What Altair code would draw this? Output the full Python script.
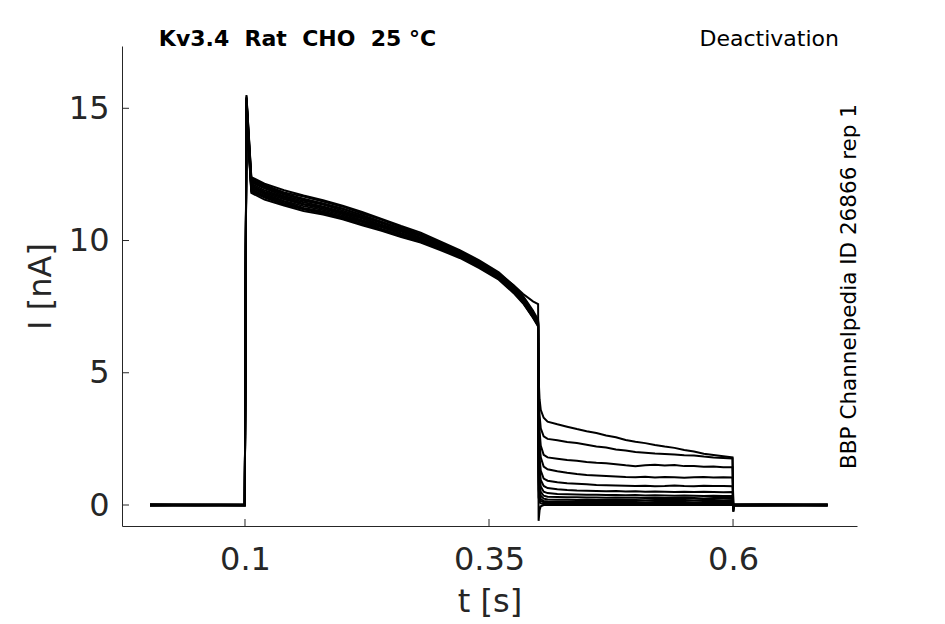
import altair as alt
import pandas as pd

# ---- time base of the sampled points (s) ----
T = [0.0027, 0.05, 0.0998,
     0.1015, 0.104, 0.1065, 0.12, 0.14, 0.16, 0.18, 0.2, 0.22, 0.24, 0.26, 0.28, 0.3, 0.32, 0.34, 0.36, 0.375, 0.385, 0.395, 0.4003,
     0.4008, 0.4018, 0.403, 0.406, 0.41, 0.42, 0.43, 0.44, 0.45, 0.46, 0.47, 0.48, 0.49, 0.5, 0.51, 0.52, 0.53, 0.54, 0.55, 0.56, 0.57, 0.58, 0.59, 0.5995,
     0.6003, 0.601, 0.65, 0.697]

# ---- current of each sweep (nA) ----
S1 = [0.03, 0.02, 0.03, 15.5, 13.9, 12.35, 12.1, 11.82, 11.66, 11.47, 11.28, 11.02, 10.78, 10.5, 10.24, 9.93, 9.6, 9.2, 8.75, 8.25, 7.85, 7.3, 6.95,
      4.8, 4.0, 3.6, 3.3, 3.15, 3.05, 2.96, 2.87, 2.79, 2.72, 2.63, 2.56, 2.46, 2.39, 2.34, 2.27, 2.21, 2.16, 2.08, 2.02, 1.94, 1.89, 1.84, 1.8,
      -0.25, 0.03, 0.03, 0.02]
S2 = [-0.03, -0.02, -0.03, 15.0, 13.3, 11.8, 11.55, 11.32, 11.12, 10.98, 10.8, 10.58, 10.37, 10.13, 9.92, 9.64, 9.34, 8.96, 8.52, 8.02, 7.62, 7.08, 6.75,
      4.3, 3.4, 2.9, 2.6, 2.5, 2.45, 2.38, 2.34, 2.28, 2.21, 2.17, 2.1, 2.06, 2.0, 1.98, 1.95, 1.93, 1.91, 1.88, 1.87, 1.83, 1.8, 1.78, 1.76,
      -0.25, -0.03, -0.02, -0.03]
S3 = [0.01, 0.02, 0.01, 15.4, 13.7, 12.2, 11.97, 11.68, 11.5, 11.36, 11.13, 10.9, 10.66, 10.4, 10.17, 9.86, 9.55, 9.15, 8.7, 8.2, 7.8, 7.25, 6.9,
      3.8, 2.8, 2.25, 1.9, 1.8, 1.75, 1.7, 1.67, 1.63, 1.6, 1.58, 1.54, 1.5, 1.47, 1.5, 1.52, 1.49, 1.51, 1.47, 1.47, 1.45, 1.46, 1.43, 1.43,
      -0.2, 0.01, 0.02, 0.01]
S4 = [-0.01, -0.02, -0.01, 15.1, 13.45, 11.95, 11.7, 11.47, 11.23, 11.1, 10.9, 10.7, 10.44, 10.2, 9.98, 9.7, 9.4, 9.0, 8.57, 8.06, 7.66, 7.12, 6.8,
      3.3, 2.3, 1.8, 1.45, 1.35, 1.28, 1.22, 1.17, 1.13, 1.12, 1.1, 1.08, 1.06, 1.05, 1.07, 1.04, 1.06, 1.05, 1.03, 1.05, 1.06, 1.04, 1.05, 1.04,
      -0.15, -0.01, -0.02, -0.01]
S5 = [0.02, 0.0, 0.02, 15.45, 13.95, 12.4, 12.15, 11.9, 11.7, 11.52, 11.32, 11.08, 10.82, 10.55, 10.3, 9.97, 9.64, 9.25, 8.8, 8.3, 7.9, 7.35, 7.0,
      2.8, 1.8, 1.3, 1.0, 0.92, 0.86, 0.82, 0.8, 0.78, 0.76, 0.75, 0.74, 0.73, 0.72, 0.73, 0.71, 0.72, 0.74, 0.72, 0.71, 0.73, 0.72, 0.72, 0.71,
      -0.15, 0.02, 0.0, 0.02]
S6 = [0.0, 0.01, 0.0, 15.3, 13.6, 12.1, 11.84, 11.62, 11.38, 11.26, 11.04, 10.83, 10.57, 10.34, 10.09, 9.81, 9.47, 9.11, 8.64, 8.16, 7.74, 7.2, 6.86,
      2.3, 1.4, 0.95, 0.72, 0.64, 0.6, 0.57, 0.55, 0.54, 0.53, 0.52, 0.53, 0.51, 0.52, 0.5, 0.51, 0.5, 0.49, 0.5, 0.49, 0.5, 0.49, 0.48, 0.49,
      -0.1, 0.0, 0.01, 0.0]
S7 = [-0.02, 0.0, -0.02, 15.05, 13.4, 11.85, 11.62, 11.36, 11.18, 11.02, 10.84, 10.62, 10.4, 10.16, 9.95, 9.7, 9.42, 9.08, 8.75, 8.32, 7.98, 7.7, 7.6,
      1.9, 1.1, 0.7, 0.5, 0.45, 0.42, 0.41, 0.4, 0.39, 0.39, 0.38, 0.38, 0.37, 0.38, 0.36, 0.37, 0.36, 0.35, 0.36, 0.35, 0.34, 0.35, 0.34, 0.34,
      -0.1, -0.02, 0.0, -0.02]
S8 = [0.0, 0.0, 0.0, 15.35, 13.75, 12.25, 12.0, 11.74, 11.55, 11.38, 11.2, 10.96, 10.7, 10.45, 10.2, 9.9, 9.58, 9.2, 8.74, 8.24, 7.84, 7.28, 6.93,
      1.5, 0.8, 0.5, 0.35, 0.31, 0.3, 0.29, 0.29, 0.28, 0.28, 0.27, 0.28, 0.27, 0.27, 0.26, 0.27, 0.26, 0.26, 0.27, 0.26, 0.25, 0.26, 0.26, 0.26,
      -0.1, 0.0, 0.0, 0.0]
S9 = [0.01, -0.01, 0.01, 15.2, 13.55, 12.05, 11.8, 11.56, 11.36, 11.2, 11.0, 10.77, 10.54, 10.28, 10.05, 9.76, 9.44, 9.06, 8.6, 8.1, 7.7, 7.16, 6.83,
      1.2, 0.6, 0.35, 0.24, 0.21, 0.2, 0.2, 0.19, 0.2, 0.19, 0.19, 0.2, 0.19, 0.19, 0.18, 0.19, 0.19, 0.2, 0.19, 0.18, 0.19, 0.19, 0.18, 0.19,
      -0.05, 0.01, -0.01, 0.01]
S10 = [0, 0, 0, 15.4, 13.85, 12.3, 12.05, 11.78, 11.58, 11.4, 11.2, 10.95, 10.7, 10.43, 10.18, 9.87, 9.55, 9.16, 8.7, 8.2, 7.8, 7.24, 6.9,
       0.9, 0.4, 0.22, 0.15, 0.13, 0.12, 0.12, 0.11, 0.12, 0.11, 0.11, 0.12, 0.11, 0.11, 0.1, 0.11, 0.11, 0.12, 0.11, 0.1, 0.11, 0.11, 0.11, 0.11,
       -0.05, 0.0, 0.0, 0.0]
S11 = [0, 0, 0, 15.05, 13.4, 11.9, 11.66, 11.42, 11.2, 11.07, 10.86, 10.64, 10.41, 10.17, 9.95, 9.68, 9.38, 9.0, 8.55, 8.05, 7.65, 7.1, 6.78,
       0.6, 0.25, 0.14, 0.1, 0.09, 0.08, 0.08, 0.08, 0.07, 0.08, 0.08, 0.08, 0.07, 0.08, 0.08, 0.07, 0.08, 0.08, 0.07, 0.08, 0.08, 0.07, 0.08, 0.08,
       -0.05, 0.0, 0.0, 0.0]
S12 = [0, 0, 0, 15.3, 13.65, 12.15, 11.9, 11.64, 11.45, 11.29, 11.08, 10.85, 10.6, 10.35, 10.11, 9.8, 9.49, 9.1, 8.66, 8.15, 7.75, 7.2, 6.87,
       0.3, 0.1, 0.06, 0.04, 0.04, 0.04, 0.03, 0.04, 0.04, 0.04, 0.03, 0.04, 0.04, 0.04, 0.03, 0.04, 0.04, 0.04, 0.04, 0.03, 0.04, 0.04, 0.04, 0.04,
       -0.05, 0.0, 0.0, 0.0]
S13 = [0, 0, 0, 15.15, 13.5, 12.0, 11.76, 11.5, 11.3, 11.15, 10.95, 10.73, 10.5, 10.25, 10.03, 9.74, 9.43, 9.05, 8.6, 8.1, 7.7, 7.15, 6.82,
       -0.6, -0.2, -0.05, 0.0, 0.0, 0.01, 0.0, 0.0, 0.01, 0.0, 0.0, 0.0, 0.01, 0.0, 0.0, 0.0, 0.01, 0.0, 0.0, 0.0, 0.01, 0.0, 0.0, 0.0,
       -0.05, 0.0, 0.0, 0.0]

SWEEPS = [S1, S2, S3, S4, S5, S6, S7, S8, S9, S10, S11, S12, S13]

X_TICKS = [0.1, 0.35, 0.6]
Y_TICKS = [0, 5, 10, 15]

# doubled gaps kept with no-break spaces (SVG collapses ordinary runs of spaces)
TITLE_LEFT = "Kv3.4\u00a0\u00a0Rat\u00a0\u00a0CHO\u00a0\u00a025 °C"
TITLE_RIGHT = "Deactivation"
SIDE_LABEL = "BBP Channelpedia ID 26866 rep 1"
X_TITLE = "t [s]"
Y_TITLE = "I [nA]"

# ---- build table ----
rows = []
for k, vals in enumerate(SWEEPS):
    assert len(vals) == len(T), (k, len(vals))
    for t, v in zip(T, vals):
        rows.append({"sweep": k + 1, "t": t, "i": v})
df = pd.DataFrame(rows)

W, H = 735, 480
FONT = "DejaVu Sans"
GREY = "#262626"

xscale = alt.Scale(domain=[-0.026, 0.727], zero=False, nice=False)
yscale = alt.Scale(domain=[-0.794, 17.355], zero=False, nice=False)

lines = alt.Chart(df).mark_line(color="black", strokeWidth=2).encode(
    x=alt.X("t:Q", scale=xscale,
            axis=alt.Axis(values=X_TICKS, format="~g", title=X_TITLE, ticks=False, grid=False,
                          labelPadding=18, titleY=75, titleBaseline="middle")),
    y=alt.Y("i:Q", scale=yscale,
            axis=alt.Axis(values=Y_TICKS, format="d", title=Y_TITLE, ticks=False, grid=False,
                          labelPadding=13, titleX=-82, titleY=H / 2, titleAngle=270,
                          titleBaseline="middle", titleAlign="center")),
    detail="sweep:N",
)

xt = alt.Chart(pd.DataFrame({"t": X_TICKS})).mark_rule(color=GREY, strokeWidth=1).encode(
    x=alt.X("t:Q", scale=xscale), y=alt.value(H), y2=alt.value(H - 7))
yt = alt.Chart(pd.DataFrame({"i": Y_TICKS})).mark_rule(color=GREY, strokeWidth=1).encode(
    y=alt.Y("i:Q", scale=yscale), x=alt.value(0), x2=alt.value(7))

t_left = alt.Chart(pd.DataFrame({"label": [TITLE_LEFT]})).mark_text(
    font=FONT, fontSize=22, fontWeight="bold", color="black", align="center", baseline="middle"
).encode(x=alt.value(175.5), y=alt.value(-7), text="label:N")
t_right = alt.Chart(pd.DataFrame({"label": [TITLE_RIGHT]})).mark_text(
    font=FONT, fontSize=22, color="black", align="right", baseline="middle"
).encode(x=alt.value(717), y=alt.value(-7), text="label:N")
t_side = alt.Chart(pd.DataFrame({"label": [SIDE_LABEL]})).mark_text(
    font=FONT, fontSize=21.5, color="black", align="center", baseline="middle", angle=270
).encode(x=alt.value(728), y=alt.value(240.5), text="label:N")

chart = alt.layer(lines, xt, yt, t_left, t_right, t_side).properties(
    width=W, height=H,
    autosize=alt.AutoSizeParams(type="none"),
    padding={"left": 114, "top": 38, "right": 80, "bottom": 98},
).configure_view(stroke=None).configure_axis(
    domainColor=GREY, domainWidth=1, labelFont=FONT, labelFontSize=32, labelColor=GREY,
    titleFont=FONT, titleFontSize=32, titleFontWeight="normal", titleColor=GREY,
)

chart.save("out.html", embed_options={"renderer": "svg", "actions": False})
